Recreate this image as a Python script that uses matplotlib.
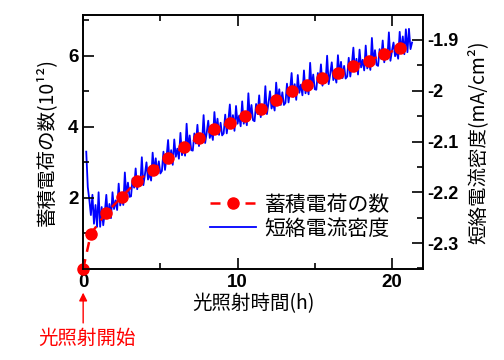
import numpy as np
import matplotlib
matplotlib.use("Agg")
import matplotlib.pyplot as plt

plt.rcParams['font.family'] = ['Noto Sans CJK JP', 'DejaVu Sans']

# stored charge (10^12) vs illumination time (h)
charge_t = [0, 0.5, 1.5, 2.5, 3.5, 4.5, 5.5, 6.5, 7.5, 8.5, 9.5, 10.5,
            11.5, 12.5, 13.5, 14.5, 15.5, 16.5, 17.5, 18.5, 19.5, 20.5]
charge = [0, 0.99, 1.58, 2.03, 2.48, 2.79, 3.12, 3.44, 3.69, 3.94, 4.12,
          4.30, 4.50, 4.76, 5.01, 5.17, 5.39, 5.53, 5.72, 5.87, 6.05, 6.21]

# short-circuit current density (mA/cm2), sampled every 0.1 h from 0.2 h
jsc_t = np.round(np.arange(2, 214) / 10, 1)
jsc = [-2.120, -2.190, -2.215, -2.245, -2.205, -2.262, -2.225, -2.268, -2.200,
       -2.268, -2.229, -2.265, -2.240, -2.205, -2.250, -2.223, -2.251, -2.200, -2.233,
       -2.216, -2.235, -2.183, -2.226, -2.209, -2.225, -2.161, -2.210, -2.181, -2.209,
       -2.208, -2.173, -2.191, -2.153, -2.194, -2.170, -2.186, -2.131, -2.186, -2.165,
       -2.141, -2.175, -2.162, -2.177, -2.122, -2.160, -2.133, -2.164, -2.139, -2.163,
       -2.158, -2.120, -2.156, -2.131, -2.097, -2.143, -2.117, -2.146, -2.096, -2.130,
       -2.114, -2.134, -2.083, -2.127, -2.111, -2.128, -2.065, -2.116, -2.088, -2.117,
       -2.118, -2.084, -2.104, -2.067, -2.109, -2.085, -2.102, -2.048, -2.103, -2.083,
       -2.059, -2.093, -2.081, -2.097, -2.042, -2.081, -2.055, -2.087, -2.063, -2.088,
       -2.084, -2.047, -2.084, -2.060, -2.027, -2.074, -2.048, -2.079, -2.030, -2.065,
       -2.049, -2.070, -2.021, -2.065, -2.050, -2.068, -2.005, -2.056, -2.028, -2.058,
       -2.060, -2.026, -2.046, -2.009, -2.052, -2.028, -2.044, -1.991, -2.046, -2.025,
       -2.001, -2.035, -2.024, -2.039, -1.984, -2.022, -1.997, -2.028, -2.003, -2.028,
       -2.024, -1.986, -2.023, -1.999, -1.965, -2.012, -1.987, -2.018, -1.969, -2.004,
       -1.988, -2.009, -1.960, -2.005, -1.990, -2.007, -1.945, -1.995, -1.968, -1.997,
       -1.998, -1.965, -1.984, -1.948, -1.990, -1.967, -1.984, -1.931, -1.987, -1.967,
       -1.944, -1.979, -1.968, -1.984, -1.930, -1.969, -1.943, -1.975, -1.951, -1.976,
       -1.972, -1.935, -1.972, -1.948, -1.915, -1.962, -1.937, -1.968, -1.919, -1.954,
       -1.939, -1.960, -1.911, -1.956, -1.941, -1.959, -1.896, -1.947, -1.920, -1.949,
       -1.951, -1.918, -1.937, -1.901, -1.944, -1.921, -1.938, -1.885, -1.941, -1.921,
       -1.905, -1.932, -1.921, -1.937, -1.884, -1.924, -1.893, -1.928, -1.879, -1.924,
       -1.878, -1.918, -1.905]

fig = plt.figure(figsize=(5.04, 3.6), dpi=100)
ax = fig.add_axes([0.165, 0.253, 0.674, 0.705])
ax2 = ax.twinx()
ax.set_zorder(ax2.get_zorder() + 1)
ax.patch.set_visible(False)

l2, = ax2.plot(jsc_t, jsc, color='#0000ff', lw=1.3, label='短絡電流密度')
l1, = ax.plot(charge_t, charge, color='#ff0000', ls='--', lw=1.8, dashes=(4, 3),
              marker='o', ms=8, label='蓄積電荷の数', clip_on=False)

ax.set_xlim(0, 22)
ax.set_ylim(0, 7.15)
ax2.set_ylim(-2.351, -1.851)

ax.set_xticks([0, 10, 20])
ax.set_xticks([5, 15], minor=True)
ax.set_yticks([2, 4, 6])
ax.set_yticks([1, 3, 5, 7], minor=True)
ax2.set_yticks([-2.3, -2.2, -2.1, -2.0, -1.9])
ax2.set_yticklabels(['-2.3', '-2.2', '-2.1', '-2', '-1.9'])
ax2.set_yticks([-2.35, -2.25, -2.15, -2.05, -1.95], minor=True)

tick_font = dict(family='Liberation Sans', weight='bold')
for lab in ax.get_xticklabels() + ax.get_yticklabels():
    lab.set_fontproperties(tick_font)
    lab.set_fontsize(13.5)
for lab in ax2.get_yticklabels():
    lab.set_fontproperties(tick_font)
    lab.set_fontsize(13)

ax.tick_params(which='both', direction='in', top=True, width=1.2)
ax.tick_params(which='major', length=8)
ax.tick_params(which='minor', length=4)
ax.tick_params(axis='y', right=False)
ax2.tick_params(which='both', direction='in', width=1.2)
ax2.tick_params(which='major', length=8)
ax2.tick_params(which='minor', length=4)
for a in (ax, ax2):
    for s in a.spines.values():
        s.set_linewidth(1.2)

ax.set_xlabel('光照射時間(h)', fontsize=14, labelpad=2)
ax.set_ylabel('蓄積電荷の数(10¹²)', fontsize=14, labelpad=8)
ax2.set_ylabel('短絡電流密度(mA/cm²)', fontsize=14, labelpad=6)

ax.legend(handles=[l1, l2], loc='upper left', bbox_to_anchor=(0.35, 0.33),
          frameon=False, fontsize=15, handlelength=2.2, handletextpad=0.4,
          labelspacing=0.1, borderaxespad=0)

ax.annotate('', xy=(0, -0.59), xytext=(0, -1.6), xycoords='data',
            arrowprops=dict(arrowstyle='-|>', color='#ff0000', lw=1,
                            mutation_scale=12), annotation_clip=False)
ax.text(0.26, -1.95, '光照射開始', color='#ff0000', fontsize=14,
        ha='center', va='center', clip_on=False)

fig.savefig('out.png', dpi=100)
